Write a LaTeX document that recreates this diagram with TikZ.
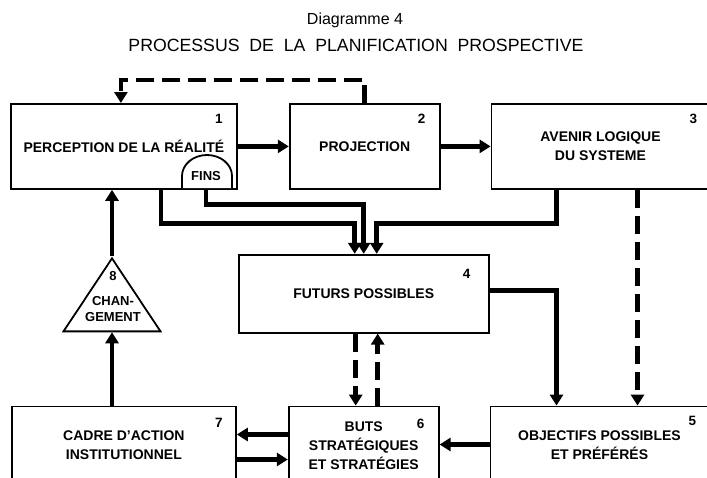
\documentclass[tikz,border=0pt]{standalone}
\usepackage{fontspec}
\setmainfont{Liberation Sans}
\usetikzlibrary{arrows.meta,positioning,calc,shapes.geometric}

\begin{document}
\begin{tikzpicture}[
  x=1pt, y=1pt,
  font=\bfseries\fontsize{14}{19}\selectfont,
  box/.style={draw, line width=1.8pt, align=center, inner sep=2pt, minimum height=85pt},
  num/.style={inner sep=0pt, font=\bfseries\fontsize{13.5}{13.5}\selectfont},
  arr/.style={-{Triangle[length=11pt,width=13pt]}, line width=4.8pt},
  darr/.style={arr, dash pattern=on 18pt off 8pt}
]
\useasboundingbox (0,0) rectangle (707,-477);

% title
\node[font=\fontsize{16}{16}\selectfont] (dia) at (355,-20) {Diagramme 4};
\node[font=\fontsize{17.7}{17.7}\selectfont] (ttl) at (356,-45)
  {PROCESSUS\ \ DE\ \ LA\ \ PLANIFICATION\ \ PROSPECTIVE};

% boxes
\node[box, anchor=north west, minimum width=226pt] (b1) at (10,-103) {PERCEPTION DE LA RÉALITÉ};
\node[box, minimum width=150pt, right=51pt of b1] (b2) {PROJECTION};
\node[box, minimum width=218pt, right=50pt of b2] (b3) {AVENIR LOGIQUE\\DU SYSTEME};
\node[box, minimum width=250pt, minimum height=78pt, below right=64pt and 0pt of b1.south east] (b4) {FUTURS POSSIBLES};
\node[box, minimum width=150pt, minimum height=78pt, below=72pt of b4] (b6) {BUTS\\STRATÉGIQUES\\ET STRATÉGIES};
\node[box, minimum width=218pt, minimum height=78pt, right=50pt of b6] (b5) {OBJECTIFS POSSIBLES\\ET PRÉFÉRÉS};
\node[box, minimum width=224pt, minimum height=78pt, left=51pt of b6] (b7) {CADRE D'ACTION\\INSTITUTIONNEL};

% numbers
\foreach \k/\dx/\dy in {1/-19/-16, 2/-19/-16, 3/-17/-16, 4/-23/-20, 5/-17/-15, 6/-19/-18, 7/-18/-17}
  \node[num] (n\k) at ($(b\k.north east)+(\dx,\dy)$) {\k};

% fins
\draw[line width=1.8pt, fill=white] (182,-188) -- (182,-176)
  arc[start angle=180, end angle=0, x radius=25, y radius=21] -- (232,-188);
\node[font=\bfseries\fontsize{13}{13}\selectfont] (fins) at (206,-176) {FINS};

% change
\node[draw, line width=1.8pt, isosceles triangle, shape border rotate=90,
  isosceles triangle stretches, minimum width=97pt, minimum height=73pt,
  inner sep=0pt, anchor=apex] (b8) at (112,-256) {};
\node[align=center, font=\bfseries\fontsize{13}{16.5}\selectfont] (t8) at (113,-297) {8\\[8pt]CHAN-\\GEMENT};

% arrows
\draw[arr] (b1) -- (b2);
\draw[arr] (b2) -- (b3);
\draw[darr] (b2.north) -- ++(0,23) -| ([xshift=-3pt]b1.north);
\draw[arr] ([xshift=37pt]b1.south) |- ([xshift=-9pt,yshift=30pt]b4.north) -- ([xshift=-9pt]b4.north);
\draw[arr] (fins.south |- b1.south) |- ([yshift=49pt]b4.north) -- (b4.north);
\draw[arr] ([xshift=-44pt]b3.south) |- ([xshift=13pt,yshift=30pt]b4.north) -- ([xshift=13pt]b4.north);
\draw[arr] ([yshift=3pt]b4.east) -| ([xshift=-43pt]b5.north);
\draw[darr] ([xshift=37pt]b3.south) -- ([xshift=37pt]b3.south |- b5.north);
\draw[darr] ([xshift=-8pt]b4.south) -- ([xshift=-8pt]b6.north);
\draw[darr] ([xshift=14pt]b6.north) -- ([xshift=14pt]b4.south);
\draw[arr] ([yshift=1pt]b5.west) -- ([yshift=1pt]b6.east);
\draw[arr] ([yshift=11pt]b6.west) -- ([yshift=11pt]b7.east);
\draw[arr] ([yshift=-14pt]b7.east) -- ([yshift=-14pt]b6.west);
\draw[arr] (b8.lower side |- b7.north) -- (b8.lower side);
\draw[arr] (b8.apex) -- (b8.apex |- b1.south);
\end{tikzpicture}
\end{document}
